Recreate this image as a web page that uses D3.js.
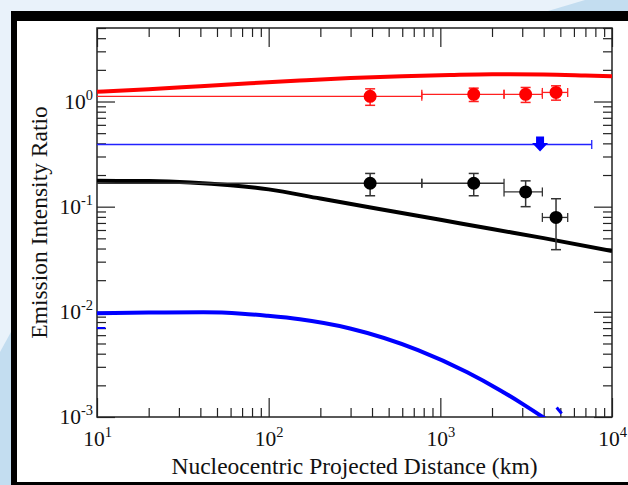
<!DOCTYPE html>
<html>
<head>
<meta charset="utf-8">
<script src="https://cdn.jsdelivr.net/npm/d3@7"></script>
<style>
  body { margin: 0; background: #e9f2fa; }
  svg { display: block; }
  text { font-family: 'Liberation Serif', 'DejaVu Serif', serif; fill: #111; }
</style>
</head>
<body>
<svg id="chart" width="628" height="485"></svg>
<script>
// binned observations (km), bins start at the nucleus
const binLow = [0, 780, 2350, 3930];
const binHigh = [780, 2350, 3930, 5520];
const binMid = [390, 1565, 3140, 4720];

const redValues = [1.12, 1.17, 1.17, 1.22];
const redErrors = [0.2, 0.17, 0.19, 0.19];

const blackValues = [0.167, 0.167, 0.138, 0.079];
const blackErrors = [0.04, 0.04, 0.038, 0.04];

// upper limit
const blueLimit = { x: 3810, xLow: 0, xHigh: 7620, value: 0.39 };

// model curves [km, ratio]
const redModel = [[10, 1.24], [20, 1.31], [40, 1.4], [78, 1.49], [152, 1.58], [300, 1.67],
  [600, 1.74], [1137, 1.79], [2000, 1.82], [4000, 1.81], [7000, 1.77], [10000, 1.74]];
const blackModel = [[10, 0.176], [20, 0.175], [35, 0.17], [60, 0.16], [100, 0.146], [200, 0.1195],
  [400, 0.0978], [1000, 0.075], [2000, 0.0613], [4000, 0.0502], [10000, 0.0378]];
const blueModel = [[10, 0.00968], [20, 0.00985], [41.6, 0.00989], [70, 0.0096], [97.4, 0.00918],
  [152, 0.00849], [298, 0.00695], [741, 0.00433], [1424, 0.00268], [2226, 0.0018], [3041, 0.00132],
  [3945, 0.001], [4500, 0.00086]];
const blueTail = [[4760, 0.00123], [5090, 0.00108]];
const blueStub = [[10, 0.00702], [11.2, 0.00702]];

const xMajorTicks = [10, 100, 1000, 10000];
const yMajorTicks = [0.001, 0.01, 0.1, 1];

const svg = d3.select('#chart');

// slide background + frame
svg.append('rect').attr('width', 628).attr('height', 485).attr('fill', '#e9f2fa');
svg.append('polygon').attr('points', '548,11 585,0 628,0 628,11').attr('fill', '#c3ddf0');
svg.append('polygon').attr('points', '0,352 11,332 11,485 0,485').attr('fill', '#c3ddf0');
svg.append('rect').attr('x', 11).attr('y', 11).attr('width', 617).attr('height', 474).attr('fill', '#000');
svg.append('rect').attr('x', 17).attr('y', 21).attr('width', 611).attr('height', 461).attr('fill', '#fff');

const pLeft = 97, pRight = 612, pTop = 28, pBottom = 417;

const x = d3.scaleLog().domain([10, 1e4]).range([pLeft, pRight]);
const y = d3.scaleLog().domain([1e-3, 5]).range([pBottom, pTop]);

const minorX = [];
[10, 100, 1000].forEach(p => { for (let k = 2; k <= 9; k++) minorX.push(p * k); });
const minorY = [];
[0.001, 0.01, 0.1, 1].forEach(p => { for (let k = 2; k <= 9; k++) if (p * k <= 5) minorY.push(p * k); });

const supLabel = function (d) {
  const t = d3.select(this);
  t.text('');
  t.append('tspan').text('10');
  t.append('tspan').attr('dy', -9).attr('font-size', 14.5).text(Math.round(Math.log10(d)));
};

function styleAxis(g) {
  g.select('.domain').remove();
  g.selectAll('line').attr('stroke', '#222').attr('stroke-width', 1.2);
}

// bottom
svg.append('g').attr('transform', `translate(0,${pBottom})`)
  .call(d3.axisBottom(x).tickValues(minorX).tickSize(-9).tickFormat(''))
  .call(styleAxis);
svg.append('g').attr('transform', `translate(0,${pBottom})`)
  .call(d3.axisBottom(x).tickValues(xMajorTicks).tickSize(-19).tickPadding(14))
  .call(styleAxis)
  .selectAll('text').attr('font-size', 21.5).attr('font-family', 'Liberation Serif').attr('fill', '#111').each(supLabel);
// top
svg.append('g').attr('transform', `translate(0,${pTop})`)
  .call(d3.axisTop(x).tickValues(minorX).tickSize(-9).tickFormat(''))
  .call(styleAxis);
svg.append('g').attr('transform', `translate(0,${pTop})`)
  .call(d3.axisTop(x).tickValues(xMajorTicks).tickSize(-19).tickFormat(''))
  .call(styleAxis);
// left
svg.append('g').attr('transform', `translate(${pLeft},0)`)
  .call(d3.axisLeft(y).tickValues(minorY).tickSize(-9).tickFormat(''))
  .call(styleAxis);
svg.append('g').attr('transform', `translate(${pLeft},0)`)
  .call(d3.axisLeft(y).tickValues(yMajorTicks).tickSize(-18).tickPadding(4))
  .call(styleAxis)
  .selectAll('text').attr('font-size', 21.5).attr('font-family', 'Liberation Serif').attr('fill', '#111').each(supLabel);
// right
svg.append('g').attr('transform', `translate(${pRight},0)`)
  .call(d3.axisRight(y).tickValues(minorY).tickSize(-9).tickFormat(''))
  .call(styleAxis);
svg.append('g').attr('transform', `translate(${pRight},0)`)
  .call(d3.axisRight(y).tickValues(yMajorTicks).tickSize(-18).tickFormat(''))
  .call(styleAxis);

svg.append('rect')
  .attr('x', pLeft).attr('y', pTop).attr('width', pRight - pLeft).attr('height', pBottom - pTop)
  .attr('fill', 'none').attr('stroke', '#222').attr('stroke-width', 1.5);

// data
svg.append('clipPath').attr('id', 'plotclip')
  .append('rect').attr('x', pLeft).attr('y', pTop).attr('width', pRight - pLeft).attr('height', pBottom - pTop);
const plot = svg.append('g').attr('clip-path', 'url(#plotclip)');

const line = d3.line().x(d => x(d[0])).y(d => y(d[1])).curve(d3.curveMonotoneX);

plot.append('path').datum(redModel).attr('d', line)
  .attr('fill', 'none').attr('stroke', '#ff0000').attr('stroke-width', 4);
plot.append('path').datum(blackModel).attr('d', line)
  .attr('fill', 'none').attr('stroke', '#000').attr('stroke-width', 4);
plot.append('path').datum(blueModel).attr('d', line)
  .attr('fill', 'none').attr('stroke', '#0000ff').attr('stroke-width', 4);
plot.append('path').datum(blueTail).attr('d', line)
  .attr('fill', 'none').attr('stroke', '#0000ff').attr('stroke-width', 3);
plot.append('path').datum(blueStub).attr('d', line)
  .attr('fill', 'none').attr('stroke', '#0000ff').attr('stroke-width', 2);

const xSafe = v => x(Math.max(v, 1));

function drawSeries(values, errors, color, thin) {
  const rows = values.map((v, i) => ({ v, e: errors[i], lo: binLow[i], hi: binHigh[i], mid: binMid[i] }));
  const g = plot.selectAll(null).data(rows).enter().append('g');
  g.append('line')
    .attr('x1', d => xSafe(d.lo)).attr('x2', d => x(d.hi))
    .attr('y1', d => y(d.v)).attr('y2', d => y(d.v))
    .attr('stroke', thin).attr('stroke-width', 1.3);
  [d => xSafe(d.lo), d => x(d.hi)].forEach(fx => {
    g.append('line')
      .attr('x1', fx).attr('x2', fx)
      .attr('y1', d => y(d.v) - 4.5).attr('y2', d => y(d.v) + 4.5)
      .attr('stroke', thin).attr('stroke-width', 1.3);
  });
  g.append('line')
    .attr('x1', d => x(d.mid)).attr('x2', d => x(d.mid))
    .attr('y1', d => y(d.v + d.e)).attr('y2', d => y(d.v - d.e))
    .attr('stroke', thin).attr('stroke-width', 1.5);
  [d => y(d.v + d.e), d => y(d.v - d.e)].forEach(fy => {
    g.append('line')
      .attr('x1', d => x(d.mid) - 5).attr('x2', d => x(d.mid) + 5)
      .attr('y1', fy).attr('y2', fy)
      .attr('stroke', thin).attr('stroke-width', 1.5);
  });
  g.append('circle')
    .attr('cx', d => x(d.mid)).attr('cy', d => y(d.v)).attr('r', 6.5)
    .attr('fill', color);
}

drawSeries(redValues, redErrors, '#ff0000', '#ff2020');
drawSeries(blackValues, blackErrors, '#000', '#333');

// blue upper limit
const by = y(blueLimit.value), bx = x(blueLimit.x);
plot.append('line')
  .attr('x1', xSafe(blueLimit.xLow)).attr('x2', x(blueLimit.xHigh))
  .attr('y1', by).attr('y2', by)
  .attr('stroke', '#2222ff').attr('stroke-width', 1.3);
plot.append('line')
  .attr('x1', x(blueLimit.xHigh)).attr('x2', x(blueLimit.xHigh))
  .attr('y1', by - 4.5).attr('y2', by + 4.5)
  .attr('stroke', '#2222ff').attr('stroke-width', 1.3);
plot.append('path')
  .attr('transform', `translate(${bx},${by})`)
  .attr('d', 'M-4,-8 L4,-8 L4,-1.5 L8,-1.5 L0,7 L-8,-1.5 L-4,-1.5 Z')
  .attr('fill', '#0000ff');

// titles
svg.append('text')
  .attr('x', (pLeft + pRight) / 2).attr('y', 474)
  .attr('text-anchor', 'middle').attr('font-size', 23.5)
  .text('Nucleocentric Projected Distance (km)');
svg.append('text')
  .attr('transform', `translate(47,${(pTop + pBottom) / 2}) rotate(-90)`)
  .attr('text-anchor', 'middle').attr('font-size', 23.5)
  .text('Emission Intensity Ratio');
</script>
</body>
</html>
